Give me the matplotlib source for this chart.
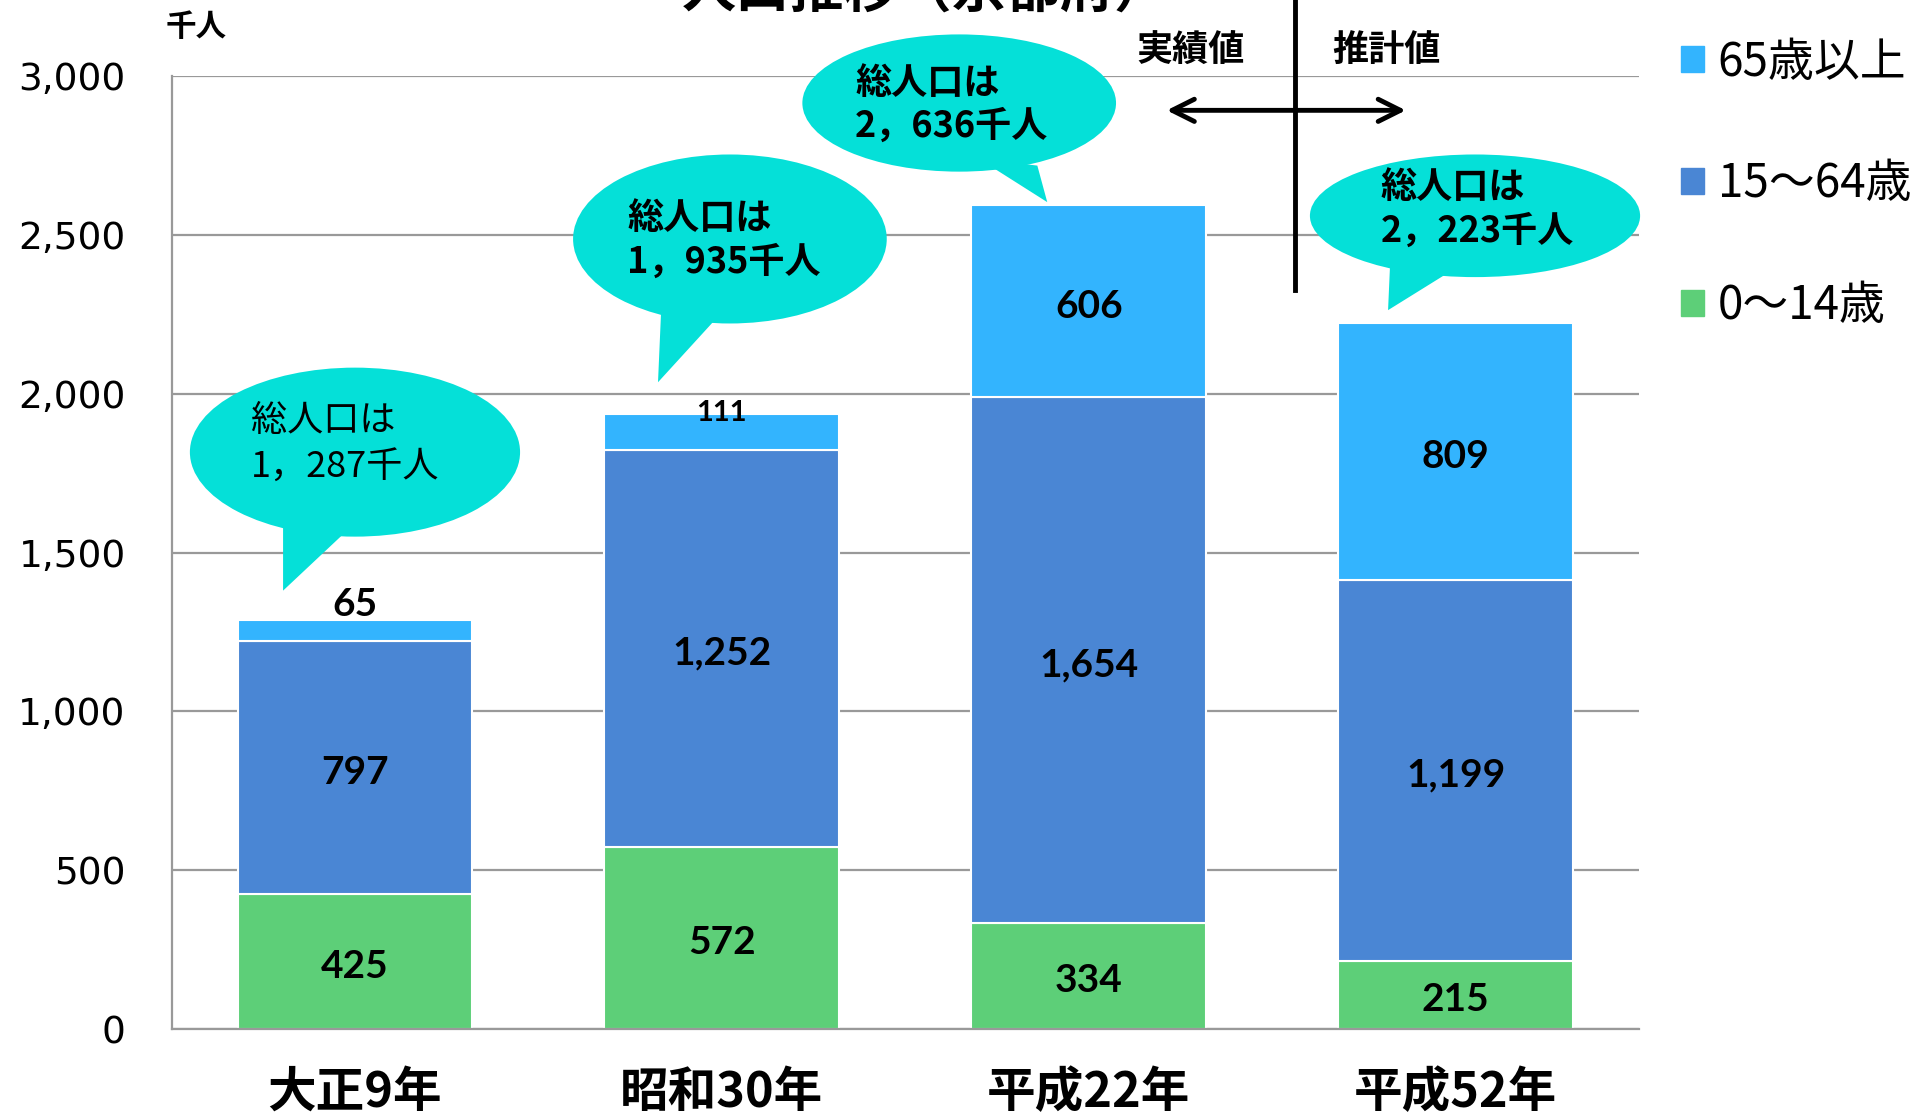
import numpy as np
import matplotlib
matplotlib.use("Agg")
import matplotlib.pyplot as plt
from matplotlib.patches import Ellipse, Polygon, Patch

plt.rcParams['font.family'] = ['Noto Sans CJK JP', 'DejaVu Sans']

# data (千人)
years = ['大正9年', '昭和30年', '平成22年', '平成52年']
age_0_14 = [425, 572, 334, 215]
age_15_64 = [797, 1252, 1654, 1199]
age_65 = [65, 111, 606, 809]
totals_text = ['1，287', '1，935', '2，636', '2，223']
yticks = [0, 500, 1000, 1500, 2000, 2500, 3000]

c_green = '#5DCF78'
c_blue = '#4A86D4'
c_light = '#33B4FE'
c_bubble = '#05E0D8'

fig = plt.figure(figsize=(19.21, 11.18), dpi=100)
ax = fig.add_axes([0.0893, 0.0796, 0.7639, 0.8524])

x = np.arange(len(years))
w = 0.64
b1 = np.array(age_0_14)
b2 = b1 + np.array(age_15_64)
ax.bar(x, age_0_14, w, color=c_green, edgecolor='white', linewidth=1.5, zorder=2)
ax.bar(x, age_15_64, w, bottom=b1, color=c_blue, edgecolor='white', linewidth=1.5, zorder=2)
ax.bar(x, age_65, w, bottom=b2, color=c_light, edgecolor='white', linewidth=1.5, zorder=2)

# value labels
lab_font = dict(family='Lato', fontweight='bold', fontsize=28, color='black',
                ha='center', va='center', zorder=5)
for i in range(len(years)):
    ax.text(x[i], age_0_14[i] / 2 - 15, f'{age_0_14[i]:,}', **lab_font)
    ax.text(x[i], b1[i] + age_15_64[i] / 2 - 15, f'{age_15_64[i]:,}', **lab_font)
    if age_65[i] > 300:
        ax.text(x[i], b2[i] + age_65[i] / 2 - 15, f'{age_65[i]:,}', **lab_font)
ax.text(x[0], b2[0] + age_65[0] + 50, f'{age_65[0]}', **lab_font)
ax.text(x[1], b2[1] + age_65[1] + 5, f'{age_65[1]}',
        **{**lab_font, 'fontsize': 21})

ax.set_xlim(-0.5, 3.5)
ax.set_ylim(0, 3000)
ax.set_yticks(yticks)
ax.set_yticklabels([f'{v:,}' for v in yticks], fontsize=27, family='DejaVu Sans')
ax.set_xticks(x)
ax.set_xticklabels(years, fontsize=35, fontweight='bold')
ax.tick_params(axis='y', length=0, pad=33)
ax.tick_params(axis='x', length=0, pad=28)
ax.grid(axis='y', color='#999999', linewidth=1.6, zorder=0)
ax.set_axisbelow(True)
for s in ['top', 'right']:
    ax.spines[s].set_visible(False)
for s in ['left', 'bottom']:
    ax.spines[s].set_color('#999999')
    ax.spines[s].set_linewidth(1.6)

# speech bubbles: (ellipse center, width, height, tail polygon, text left, line y's, weight)
bubbles = [
    ((0.0, 1816), 0.90, 532, [(-0.196, 1590), (-0.03, 1560), (-0.196, 1380)], -0.283, (1915, 1770), 'normal'),
    ((1.022, 2487), 0.855, 532, [(0.836, 2300), (1.0, 2256), (0.826, 2036)], 0.742, (2553, 2414), 'bold'),
    ((1.647, 2915), 0.855, 432, [(1.70, 2740), (1.86, 2718), (1.887, 2603)], 1.363, (2977, 2842), 'bold'),
    ((3.053, 2560), 0.90, 386, [(2.822, 2420), (2.993, 2390), (2.816, 2263)], 2.796, (2649, 2510), 'bold'),
]
for (c, bw, bh, tail, tx, ty, fw), tot in zip(bubbles, totals_text):
    ax.add_patch(Ellipse(c, bw, bh, facecolor=c_bubble, edgecolor='none',
                         zorder=6, clip_on=False))
    ax.add_patch(Polygon(tail, closed=True, facecolor=c_bubble, edgecolor='none',
                         zorder=6, clip_on=False))
    ax.text(tx, ty[0], '総人口は', fontsize=26, fontweight=fw, ha='left',
            va='center', zorder=7, clip_on=False)
    ax.text(tx, ty[1], tot + '千人', fontsize=26, fontweight=fw, ha='left',
            va='center', zorder=7, clip_on=False)

# 実績値 / 推計値 divider
ax.plot([2.562, 2.562], [2325, 3260], color='black', linewidth=3.5,
        clip_on=False, zorder=7)
ax.annotate('', xy=(2.205, 2892), xytext=(2.872, 2892),
            arrowprops=dict(arrowstyle='<->', color='black', lw=3.5,
                            mutation_scale=40),
            annotation_clip=False, zorder=7)
ax.text(2.278, 3077, '実績値', fontsize=26, fontweight='bold', ha='center',
        va='center', clip_on=False)
ax.text(2.812, 3077, '推計値', fontsize=26, fontweight='bold', ha='center',
        va='center', clip_on=False)

fig.text(196 / 1921, 1 - 27 / 1118, '千人', fontsize=22, fontweight='bold',
         ha='center', va='center')
fig.text(925 / 1921, 1 - 20 / 1118, '人口推移（京都府）', fontsize=39,
         fontweight='bold', ha='center', va='bottom')

handles = [Patch(color=c_light), Patch(color=c_blue), Patch(color=c_green)]
fig.legend(handles, ['65歳以上', '15〜64歳', '0〜14歳'], loc='upper left',
           bbox_to_anchor=(0.875, 0.966), frameon=False, fontsize=33,
           handlelength=0.5, handleheight=0.5, handletextpad=0.3,
           labelspacing=1.6, borderpad=0, borderaxespad=0)

plt.savefig('out.png', dpi=100)
